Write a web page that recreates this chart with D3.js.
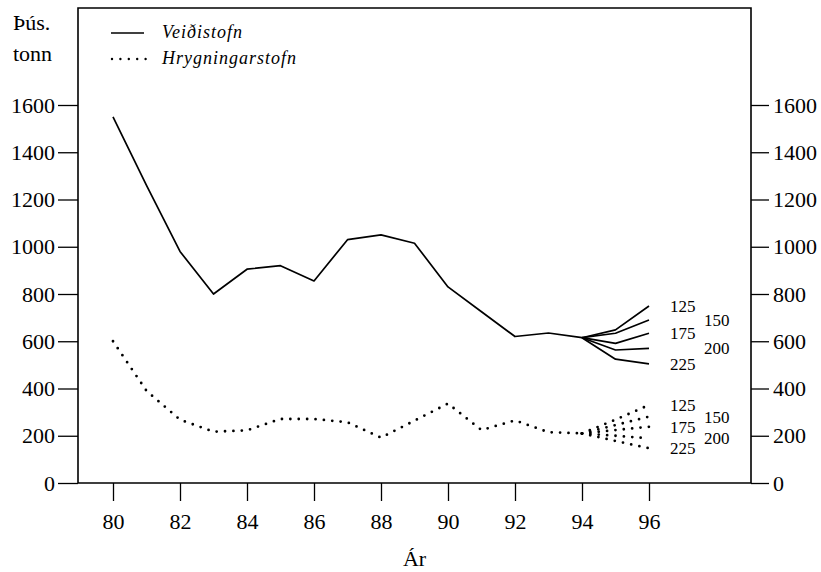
<!DOCTYPE html>
<html>
<head>
<meta charset="utf-8">
<script src="https://cdn.jsdelivr.net/npm/d3@7"></script>
<style>
  body { margin: 0; background: #fff; }
  text { font-family: "Liberation Serif", "Times New Roman", serif; fill: #000; }
</style>
</head>
<body>
<div id="vis_container" style="width:821px;height:572px;"></div>
<script>
// years (19xx) and stock in thousand tonnes
var years = [80, 81, 82, 83, 84, 85, 86, 87, 88, 89, 90, 91, 92, 93, 94];
var veidistofn = [1550, 1260, 980, 800, 905, 920, 855, 1030, 1050, 1015, 830, 725, 620, 635, 615];
var hrygningarstofn = [600, 390, 268, 217, 223, 271, 271, 257, 192, 264, 336, 224, 265, 215, 210];

// projections for different catch levels
var projYears = [94, 95, 96];
var catchLevels = ["125", "150", "175", "200", "225"];
var veidiProj = [
	[615, 648, 749],
	[615, 634, 690],
	[615, 591, 634],
	[615, 563, 570],
	[615, 524, 504]
];
var hrygnProj = [
	[210, 268, 330],
	[210, 245, 281],
	[210, 224, 238],
	[210, 200, 189],
	[210, 178, 147]
];

var xTicks = [80, 82, 84, 86, 88, 90, 92, 94, 96];
var yTicks = [0, 200, 400, 600, 800, 1000, 1200, 1400, 1600];

var chart = {};
chart.width = 821;
chart.height = 572;
chart.box = {"left": 78, "right": 751, "top": 8, "bottom": 483};

chart.svg = d3.select("#vis_container").append("svg")
	.attr("width", chart.width)
	.attr("height", chart.height);

chart.x = d3.scaleLinear().domain([80, 96]).range([113, 649]);
chart.y = d3.scaleLinear().domain([0, 1600]).range([483, 105]);

// frame
chart.svg.append("path")
	.attr("d", "M" + chart.box.left + "," + chart.box.bottom +
		"V" + chart.box.top + "H" + chart.box.right + "V" + chart.box.bottom + "Z")
	.attr("fill", "none")
	.attr("stroke", "#000")
	.attr("stroke-width", 1.6);

// axes
var leftAxis = d3.axisLeft(chart.y).tickValues(yTicks).tickFormat(d3.format("d"))
	.tickSize(20).tickPadding(3);
var rightAxis = d3.axisRight(chart.y).tickValues(yTicks).tickFormat(d3.format("d"))
	.tickSize(18).tickPadding(4);
var bottomAxis = d3.axisBottom(chart.x).tickValues(xTicks).tickFormat(d3.format("d"))
	.tickSize(18).tickPadding(12);

function styleAxis(g) {
	g.select(".domain").remove();
	g.selectAll(".tick line").attr("stroke", "#000").attr("stroke-width", 1.3);
	g.selectAll(".tick text")
		.style("font-family", "'Liberation Serif', serif")
		.style("font-size", "22px")
		.attr("fill", "#000");
}

chart.svg.append("g")
	.attr("transform", "translate(" + chart.box.left + ",0)")
	.call(leftAxis).call(styleAxis);
chart.svg.append("g")
	.attr("transform", "translate(" + chart.box.right + ",0)")
	.call(rightAxis).call(styleAxis);
chart.svg.append("g")
	.attr("transform", "translate(0," + chart.box.bottom + ")")
	.call(bottomAxis).call(styleAxis);

// axis titles
chart.svg.append("text").attr("x", 13).attr("y", 30)
	.style("font-size", "22px").text("Þús.");
chart.svg.append("text").attr("x", 13).attr("y", 61)
	.style("font-size", "22px").text("tonn");
chart.svg.append("text").attr("x", (chart.box.left + chart.box.right) / 2).attr("y", 566)
	.attr("text-anchor", "middle")
	.style("font-size", "22px").text("Ár");

var line = d3.line()
	.x(function(d) { return chart.x(d[0]); })
	.y(function(d) { return chart.y(d[1]); });

function solid(sel) {
	sel.attr("fill", "none").attr("stroke", "#000").attr("stroke-width", 1.7)
		.attr("stroke-linejoin", "round");
}
function dotted(sel) {
	sel.attr("fill", "none").attr("stroke", "#000").attr("stroke-width", 2.8)
		.attr("stroke-linecap", "round").attr("stroke-dasharray", "0,8.4");
}

// main series
chart.svg.append("path")
	.datum(years.map(function(yr, i) { return [yr, veidistofn[i]]; }))
	.attr("d", line).call(solid);
chart.svg.append("path")
	.datum(years.map(function(yr, i) { return [yr, hrygningarstofn[i]]; }))
	.attr("d", line).call(dotted);

// projections
veidiProj.forEach(function(vals, k) {
	chart.svg.append("path")
		.datum(projYears.map(function(yr, i) { return [yr, vals[i]]; }))
		.attr("d", line).call(solid);
	chart.svg.append("text")
		.attr("x", chart.x(96) + (k % 2 === 0 ? 21 : 55))
		.attr("y", chart.y(vals[2]))
		.attr("dy", "0.35em")
		.style("font-size", "17px")
		.text(catchLevels[k]);
});
hrygnProj.forEach(function(vals, k) {
	chart.svg.append("path")
		.datum(projYears.map(function(yr, i) { return [yr, vals[i]]; }))
		.attr("d", line).call(dotted);
	chart.svg.append("text")
		.attr("x", chart.x(96) + (k % 2 === 0 ? 21 : 55))
		.attr("y", chart.y(vals[2]))
		.attr("dy", "0.35em")
		.style("font-size", "17px")
		.text(catchLevels[k]);
});

// legend
chart.svg.append("line")
	.attr("x1", 111).attr("x2", 144).attr("y1", 33).attr("y2", 33)
	.attr("stroke", "#000").attr("stroke-width", 1.3);
chart.svg.append("line")
	.attr("x1", 112).attr("x2", 146).attr("y1", 59).attr("y2", 59)
	.call(dotted).attr("stroke-width", 2.4);
chart.svg.append("text").attr("x", 162).attr("y", 38)
	.style("font-size", "18px").style("font-style", "italic")
	.style("letter-spacing", "1px").text("Veiðistofn");
chart.svg.append("text").attr("x", 162).attr("y", 64)
	.style("font-size", "18px").style("font-style", "italic")
	.style("letter-spacing", "1px").text("Hrygningarstofn");
</script>
</body>
</html>
